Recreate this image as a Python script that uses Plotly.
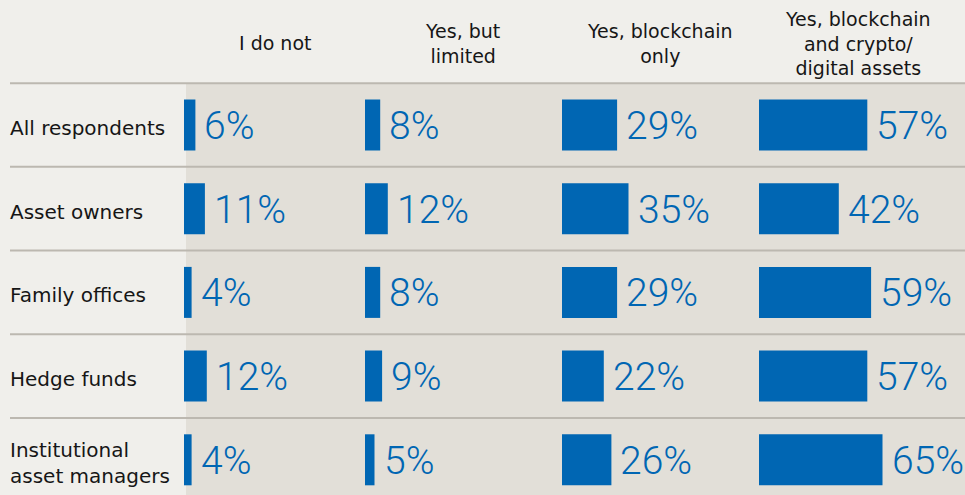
import plotly.graph_objects as go

# Survey results: use of blockchain / digital assets by respondent group
groups = ["All respondents", "Asset owners", "Family offices", "Hedge funds",
          "Institutional<br>asset managers"]
answers = ["I do not", "Yes, but<br>limited", "Yes, blockchain<br>only",
           "Yes, blockchain<br>and crypto/<br>digital assets"]
i_do_not = [6, 11, 4, 12, 4]
yes_limited = [8, 12, 8, 9, 5]
yes_blockchain_only = [29, 35, 29, 22, 26]
yes_blockchain_crypto = [57, 42, 59, 57, 65]
series = [i_do_not, yes_limited, yes_blockchain_only, yes_blockchain_crypto]

# Layout in pixels
W, H = 965, 495
col_start = [184, 365, 562, 759]     # left edge of each answer column
header_cx = [275, 462, 660, 858]     # header centres
px_per_pct = 1.9
row0, row_pitch = 125, 83.7          # centre of first row, row spacing
panel_left = 186

BG = "#f0efeb"
PANEL = "#e2dfd8"
RULE = "#bcb8b0"
BLUE = "#0066b3"
INK = "#161616"
LABEL_FONT = "DejaVu Sans"
VALUE_FONT = "Roboto"


def ypx(p):
    """Pixel row -> y-axis units."""
    return (p - row0) / row_pitch


y_top = ypx(0)
y_bot = ypx(H)

fig = go.Figure()
rows = list(range(len(groups)))

for c, vals in enumerate(series):
    fig.add_trace(go.Bar(
        orientation="h",
        y=rows,
        x=[v * px_per_pct for v in vals],
        base=col_start[c],
        width=51 / row_pitch,
        marker=dict(color=BLUE, line=dict(width=0)),
        hoverinfo="skip",
        showlegend=False,
    ))
    for r, v in enumerate(vals):
        fig.add_annotation(
            x=col_start[c] + v * px_per_pct, y=r, xref="x", yref="y",
            text=f"{v}%", showarrow=False, xanchor="left", yanchor="middle",
            xshift=7, yshift=-1,
            font=dict(family=VALUE_FONT, size=39, color=BLUE, weight=300),
        )

# Column headers
for c, label in enumerate(answers):
    fig.add_annotation(
        x=header_cx[c], y=ypx(43), xref="x", yref="y",
        text=label, showarrow=False, xanchor="center", yanchor="middle",
        align="center",
        font=dict(family=LABEL_FONT, size=19, color=INK),
    )

# Row labels
for r, g in enumerate(groups):
    fig.add_annotation(
        x=8, y=r, xref="x", yref="y", text=g, showarrow=False,
        xanchor="left", yanchor="middle", align="left", yshift=-3,
        font=dict(family=LABEL_FONT, size=20, color=INK),
    )

shapes = [dict(type="rect", xref="x", yref="y", x0=panel_left, x1=W,
               y0=-0.5, y1=y_bot, fillcolor=PANEL, line=dict(width=0),
               layer="below")]
for r in range(len(groups)):
    shapes.append(dict(type="line", xref="x", yref="y", x0=10, x1=W,
                       y0=r - 0.5, y1=r - 0.5,
                       line=dict(color=RULE, width=2), layer="below"))

fig.update_layout(
    width=W, height=H,
    margin=dict(l=0, r=0, t=0, b=0),
    paper_bgcolor=BG, plot_bgcolor=BG,
    barmode="overlay",
    shapes=shapes,
    xaxis=dict(range=[0, W], visible=False, fixedrange=True),
    yaxis=dict(range=[y_bot, y_top], visible=False, fixedrange=True),
)

fig.write_html("out.html", config={"displayModeBar": False})
